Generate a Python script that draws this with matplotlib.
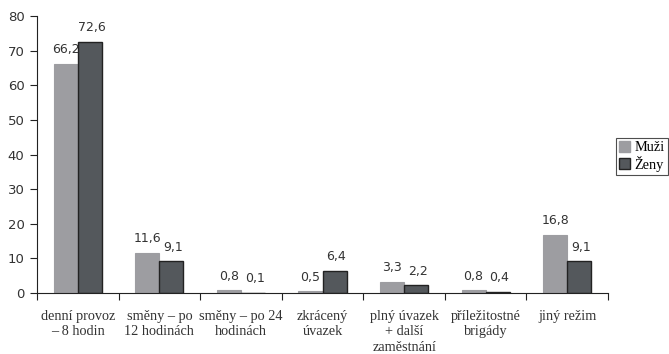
import matplotlib
matplotlib.use("Agg")
import matplotlib.pyplot as plt
import numpy as np
from matplotlib.patches import Patch

categories = ["denní provoz\n– 8 hodin", "směny – po\n12 hodinách", "směny – po 24\nhodinách",
              "zkrácený\núvazek", "plný úvazek\n+ další\nzaměstnání", "příležitostné\nbrigády", "jiný režim"]
muzi = [66.2, 11.6, 0.8, 0.5, 3.3, 0.8, 16.8]
zeny = [72.6, 9.1, 0.1, 6.4, 2.2, 0.4, 9.1]
series_names = ["Muži", "Ženy"]
yticks = [0, 10, 20, 30, 40, 50, 60, 70, 80]

c_m = "#9d9da1"
c_z = "#54585c"
txt = "#333333"

fig = plt.figure(figsize=(6.69, 3.54), dpi=100)
ax = fig.add_axes([37/669, 61/354, (608-37)/669, (293-16)/354])

x = np.arange(len(categories))
w = 0.295
ax.bar(x - w/2, muzi, w, color=c_m, edgecolor=c_m, linewidth=0.8)
ax.bar(x + w/2, zeny, w, color=c_z, edgecolor="#222222", linewidth=1.0)

for xi, v in zip(x, muzi):
    ax.text(xi - w/2, v + 2.2, f"{v:.1f}".replace(".", ","), ha="center", va="bottom",
            fontsize=9, color=txt, family="DejaVu Sans")
for xi, v in zip(x, zeny):
    ax.text(xi + w/2 + 0.02, v + 2.2, f"{v:.1f}".replace(".", ","), ha="center", va="bottom",
            fontsize=9, color=txt, family="DejaVu Sans")

ax.set_xlim(-0.5, len(categories) - 0.5)
ax.set_ylim(0, 80)
ax.set_yticks(yticks)
ax.set_yticklabels([str(t) for t in yticks], fontsize=9.5, color=txt, family="DejaVu Sans")
ax.set_xticks(np.arange(len(categories) + 1) - 0.5)
ax.set_xticklabels([])
ax.set_xticks(x, minor=True)
ax.set_xticklabels(categories, minor=True, fontsize=10.3, color=txt, family="Liberation Serif",
                   linespacing=1.25)
ax.tick_params(axis="x", which="minor", length=0, pad=12)
ax.tick_params(axis="x", which="major", length=5, direction="out", color="#222222")
ax.tick_params(axis="y", length=5, direction="out", color="#222222", pad=4)

for s in ["top", "right"]:
    ax.spines[s].set_visible(False)
ax.spines["left"].set_color("#222222")
ax.spines["bottom"].set_color("#222222")

handles = [Patch(facecolor=c_m, edgecolor=c_m), Patch(facecolor=c_z, edgecolor="#222222")]
leg = fig.legend(handles, series_names, loc="upper left", bbox_to_anchor=(616/669, 1 - 138/354),
                 frameon=True, fancybox=False, edgecolor="#222222",
                 handlelength=0.8, handleheight=0.8, handletextpad=0.3, borderpad=0.2,
                 labelspacing=0.1, borderaxespad=0, prop={"family": "Liberation Serif", "size": 10.3})
leg.get_frame().set_linewidth(0.8)

fig.savefig("out.png", dpi=100)
